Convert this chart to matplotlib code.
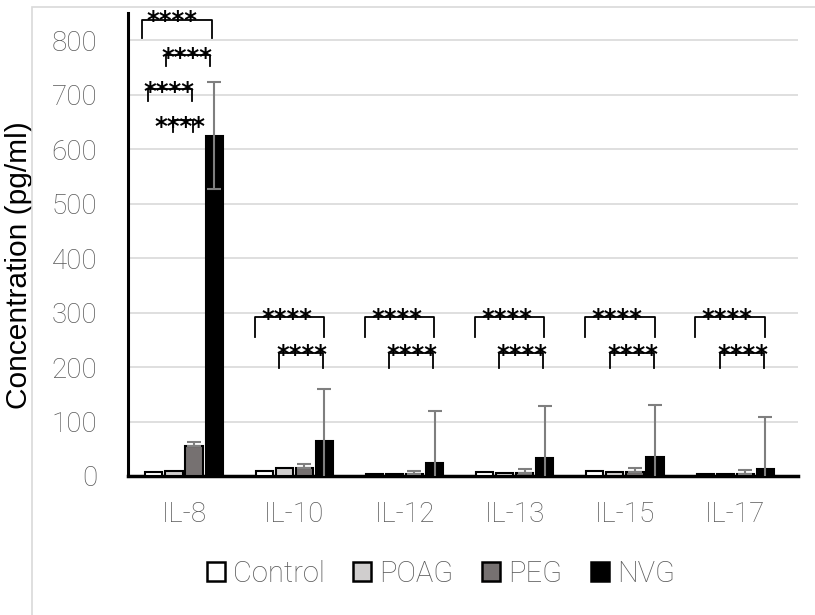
import numpy as np
import matplotlib
matplotlib.use("Agg")
import matplotlib.pyplot as plt
from matplotlib.patches import Patch, Rectangle

# data
cytokines = ["IL-8", "IL-10", "IL-12", "IL-13", "IL-15", "IL-17"]
groups = ["Control", "POAG", "PEG", "NVG"]
control = [8, 9, 4, 7, 9, 4]
poag = [10, 14, 4, 6, 7, 4]
peg = [55, 14, 3, 5, 7, 4]
nvg = [625, 64, 24, 33, 35, 13]
peg_err = [7, 8, 7, 7, 8, 7]
nvg_err = [99, 96, 96, 96, 96, 96]
colors = ["white", "#d0cece", "#767171", "black"]

# significance brackets on IL-8: (x left, x right, y top, y bottom)
brackets_il8 = [
    (-0.38, 0.25, 838, 805),
    (-0.16, 0.235, 772, 752),
    (-0.33, 0.07, 710, 688),
    (-0.10, 0.08, 653, 631),
]
stars_il8 = [(-0.11, 823), (0.03, 755), (-0.14, 693), (-0.04, 627)]

fig = plt.figure(figsize=(8.15, 6.15), dpi=100)
fig.patches.append(Rectangle((32 / 815, -0.1), 1.0, (615 - 7) / 615 + 0.1,
                             transform=fig.transFigure, fill=False,
                             edgecolor="#d9d9d9", linewidth=1.2))
ax = fig.add_axes([128 / 815, 139 / 615, (798 - 128) / 815, 463 / 615])

x = np.arange(len(cytokines))
step = 0.182
width = 0.155
series = [control, poag, peg, nvg]
for i, (vals, col) in enumerate(zip(series, colors)):
    pos = x + (i - 1.5) * step
    ax.bar(pos, vals, width, color=col, edgecolor="black", linewidth=1.5, zorder=3)
    if i == 2:
        ax.errorbar(pos, vals, yerr=[np.zeros(6), peg_err], fmt="none",
                    ecolor="#7f7f7f", elinewidth=1.5, capsize=5, capthick=1.5, zorder=4)
    if i == 3:
        ax.errorbar(pos, vals, yerr=nvg_err, fmt="none",
                    ecolor="#7f7f7f", elinewidth=1.5, capsize=5, capthick=1.5, zorder=4)

def bracket(xc, xl, xr, yt, yb):
    ax.plot([xc + xl, xc + xl, xc + xr, xc + xr], [yb, yt, yt, yb],
            color="black", lw=1.3, clip_on=False, zorder=5)

def stars(xs, ys):
    ax.text(xs, ys, "****", ha="center", va="baseline", fontsize=17.5,
            family="DejaVu Sans", fontweight="semibold", clip_on=False, zorder=6)

for xl, xr, yt, yb in brackets_il8:
    bracket(x[0], xl, xr, yt, yb)
for sx, sy in stars_il8:
    stars(x[0] + sx, sy)

for g in range(1, 6):
    bracket(x[g], -0.36, 0.27, 292, 255)
    bracket(x[g], -0.14, 0.26, 226, 198)
    stars(x[g] - 0.07, 292 - 17)
    stars(x[g] + 0.07, 226 - 17)

ax.set_xlim(-0.508, 5.57)
ax.set_ylim(0, 850)
ax.set_yticks(range(0, 900, 100))
ax.set_xticks(x)
ax.set_xticklabels(cytokines)
ax.grid(axis="y", color="#d9d9d9", linewidth=1.2, zorder=0)
ax.set_axisbelow(True)
for s in ["top", "right"]:
    ax.spines[s].set_visible(False)
ax.spines["left"].set_linewidth(2.2)
ax.spines["bottom"].set_linewidth(2.5)
ax.tick_params(length=0, labelsize=20, labelcolor="#595959")
ax.tick_params(axis="y", pad=22)
ax.tick_params(axis="x", pad=18)
for lab in ax.get_xticklabels() + ax.get_yticklabels():
    lab.set_family("Roboto")
    lab.set_fontweight("light")
ax.set_ylabel("Concentration (pg/ml)", fontsize=21.5, family="Liberation Sans")
ax.yaxis.set_label_coords(-0.142, 0.456)

handles = [Patch(facecolor=c, edgecolor="black", linewidth=1.8) for c in colors]
leg = fig.legend(handles, groups, loc="center", bbox_to_anchor=(441 / 815, 1 - 574 / 615),
                 ncol=4, frameon=False, handlelength=0.62, handleheight=0.62,
                 handletextpad=0.28, columnspacing=0.97,
                 prop={"family": "Roboto", "weight": "light", "size": 21})
for t in leg.get_texts():
    t.set_color("#595959")

fig.savefig("out.png", dpi=100)
